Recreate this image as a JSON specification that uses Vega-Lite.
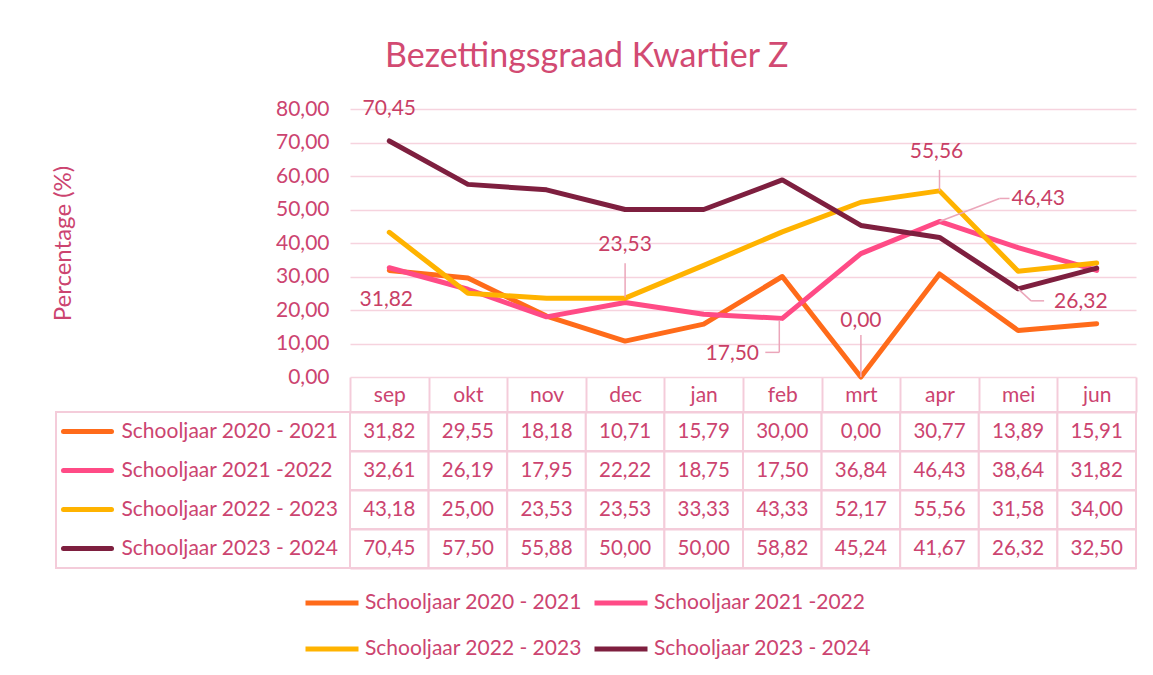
{
  "$schema": "https://vega.github.io/schema/vega-lite/v6.json",
  "padding": {"left": 51, "top": 39, "right": 5, "bottom": 5},
  "background": "white",
  "title": {"text": "Bezettingsgraad Kwartier Z", "font": "Lato", "fontSize": 34, "fontWeight": "normal", "color": "#D24A72", "anchor": "middle", "offset": 24, "dx": -8},
  "config": {
    "locale": {"number": {"decimal": ",", "thousands": ".", "grouping": [3], "currency": ["€", ""]}},
    "font": "Lato",
    "view": {"stroke": null}
  },
  "datasets": {
    "d": [
      {"m": "sep", "s": "Schooljaar 2020 - 2021", "v": 31.82},
      {"m": "okt", "s": "Schooljaar 2020 - 2021", "v": 29.55},
      {"m": "nov", "s": "Schooljaar 2020 - 2021", "v": 18.18},
      {"m": "dec", "s": "Schooljaar 2020 - 2021", "v": 10.71},
      {"m": "jan", "s": "Schooljaar 2020 - 2021", "v": 15.79},
      {"m": "feb", "s": "Schooljaar 2020 - 2021", "v": 30.00},
      {"m": "mrt", "s": "Schooljaar 2020 - 2021", "v": 0.00},
      {"m": "apr", "s": "Schooljaar 2020 - 2021", "v": 30.77},
      {"m": "mei", "s": "Schooljaar 2020 - 2021", "v": 13.89},
      {"m": "jun", "s": "Schooljaar 2020 - 2021", "v": 15.91},
      {"m": "sep", "s": "Schooljaar 2021 -2022", "v": 32.61},
      {"m": "okt", "s": "Schooljaar 2021 -2022", "v": 26.19},
      {"m": "nov", "s": "Schooljaar 2021 -2022", "v": 17.95},
      {"m": "dec", "s": "Schooljaar 2021 -2022", "v": 22.22},
      {"m": "jan", "s": "Schooljaar 2021 -2022", "v": 18.75},
      {"m": "feb", "s": "Schooljaar 2021 -2022", "v": 17.50},
      {"m": "mrt", "s": "Schooljaar 2021 -2022", "v": 36.84},
      {"m": "apr", "s": "Schooljaar 2021 -2022", "v": 46.43},
      {"m": "mei", "s": "Schooljaar 2021 -2022", "v": 38.64},
      {"m": "jun", "s": "Schooljaar 2021 -2022", "v": 31.82},
      {"m": "sep", "s": "Schooljaar 2022 - 2023", "v": 43.18},
      {"m": "okt", "s": "Schooljaar 2022 - 2023", "v": 25.00},
      {"m": "nov", "s": "Schooljaar 2022 - 2023", "v": 23.53},
      {"m": "dec", "s": "Schooljaar 2022 - 2023", "v": 23.53},
      {"m": "jan", "s": "Schooljaar 2022 - 2023", "v": 33.33},
      {"m": "feb", "s": "Schooljaar 2022 - 2023", "v": 43.33},
      {"m": "mrt", "s": "Schooljaar 2022 - 2023", "v": 52.17},
      {"m": "apr", "s": "Schooljaar 2022 - 2023", "v": 55.56},
      {"m": "mei", "s": "Schooljaar 2022 - 2023", "v": 31.58},
      {"m": "jun", "s": "Schooljaar 2022 - 2023", "v": 34.00},
      {"m": "sep", "s": "Schooljaar 2023 - 2024", "v": 70.45},
      {"m": "okt", "s": "Schooljaar 2023 - 2024", "v": 57.50},
      {"m": "nov", "s": "Schooljaar 2023 - 2024", "v": 55.88},
      {"m": "dec", "s": "Schooljaar 2023 - 2024", "v": 50.00},
      {"m": "jan", "s": "Schooljaar 2023 - 2024", "v": 50.00},
      {"m": "feb", "s": "Schooljaar 2023 - 2024", "v": 58.82},
      {"m": "mrt", "s": "Schooljaar 2023 - 2024", "v": 45.24},
      {"m": "apr", "s": "Schooljaar 2023 - 2024", "v": 41.67},
      {"m": "mei", "s": "Schooljaar 2023 - 2024", "v": 26.32},
      {"m": "jun", "s": "Schooljaar 2023 - 2024", "v": 32.50}
    ]
  },
  "data": {"name": "d"},
  "spacing": 35,
  "bounds": "flush",
  "vconcat": [
    {
      "width": 1080,
      "height": 268,
      "view": {"stroke": null},
      "encoding": {
        "x": {"field": "m", "type": "ordinal", "sort": null,
          "scale": {"type": "band", "domain": ["sep","okt","nov","dec","jan","feb","mrt","apr","mei","jun"], "paddingInner": 0, "paddingOuter": 0, "range": [294, 1080]},
          "axis": {"orient": "bottom", "title": null, "domain": false, "grid": false, "tickBand": "extent", "tickSize": 35, "tickWidth": 2, "tickColor": "#F4CCDA", "labelAngle": 0, "labelFontSize": 21, "labelColor": "#CC4470", "labelFont": "Lato", "labelBaseline": "middle", "labelPadding": -17}},
        "y": {"field": "v", "type": "quantitative",
          "scale": {"domain": [0, 80], "nice": false},
          "axis": {"orient": "left", "offset": -294, "values": [0,10,20,30,40,50,60,70,80], "format": ".2f", "domain": false, "grid": false, "tickSize": -786, "tickWidth": 1.5, "tickColor": "#F6D3DE", "labelFontSize": 21, "labelColor": "#CC4470", "labelFont": "Lato", "labelPadding": 807, "title": "Percentage (%)", "titleFont": "Lato", "titleFontSize": 24, "titleFontWeight": "normal", "titleColor": "#CC4470", "titlePadding": 200}}
      },
      "layer": [
        {
          "mark": {"type": "line", "strokeWidth": 5, "strokeJoin": "round", "strokeCap": "round"},
          "encoding": {
            "color": {"field": "s", "type": "nominal",
              "scale": {"domain": ["Schooljaar 2020 - 2021", "Schooljaar 2021 -2022", "Schooljaar 2022 - 2023", "Schooljaar 2023 - 2024"], "range": ["#FF6B1A", "#FF4B86", "#FFB300", "#7E1F3F"]},
              "legend": {"orient": "none", "legendX": 247, "legendY": 465, "columns": 2, "direction": "horizontal", "title": null, "symbolType": "stroke", "symbolSize": 2809, "symbolStrokeWidth": 5, "labelFontSize": 21, "labelColor": "#CC4470", "labelFont": "Lato", "labelLimit": 400, "columnPadding": 2, "rowPadding": 7, "labelOffset": 4}}
          }
        },
        {"transform": [{"filter": "datum.m === 'sep' && datum.s === 'Schooljaar 2023 - 2024'"}],
         "mark": {"type": "text", "fontSize": 21, "color": "#C93F66", "dx": 0, "dy": -32},
         "encoding": {"text": {"field": "v", "type": "quantitative", "format": ".2f"}}},
        {"transform": [{"filter": "datum.m === 'sep' && datum.s === 'Schooljaar 2020 - 2021'"}],
         "mark": {"type": "text", "fontSize": 21, "color": "#C93F66", "dx": -3, "dy": 30},
         "encoding": {"text": {"field": "v", "type": "quantitative", "format": ".2f"}}},
        {"transform": [{"filter": "datum.m === 'dec' && datum.s === 'Schooljaar 2022 - 2023'"}],
         "mark": {"type": "rule", "color": "#EBA6BA", "strokeWidth": 1.5, "yOffset": -1, "y2Offset": -35},
         "encoding": {"y2": {"field": "v"}}},
        {"transform": [{"filter": "datum.m === 'dec' && datum.s === 'Schooljaar 2022 - 2023'"}],
         "mark": {"type": "text", "fontSize": 21, "color": "#C93F66", "dy": -53},
         "encoding": {"text": {"field": "v", "type": "quantitative", "format": ".2f"}}},
        {"transform": [{"filter": "datum.m === 'feb' && datum.s === 'Schooljaar 2021 -2022'"}],
         "mark": {"type": "rule", "color": "#EBA6BA", "strokeWidth": 1.5, "xOffset": -3, "yOffset": 2, "y2Offset": 34},
         "encoding": {"y2": {"field": "v"}}},
        {"transform": [{"filter": "datum.m === 'feb' && datum.s === 'Schooljaar 2021 -2022'"}],
         "mark": {"type": "rule", "color": "#EBA6BA", "strokeWidth": 1.5, "xOffset": -17, "x2Offset": -3, "yOffset": 34},
         "encoding": {"x2": {"field": "m"}}},
        {"transform": [{"filter": "datum.m === 'feb' && datum.s === 'Schooljaar 2021 -2022'"}],
         "mark": {"type": "text", "fontSize": 21, "color": "#C93F66", "dx": -50, "dy": 36},
         "encoding": {"text": {"field": "v", "type": "quantitative", "format": ".2f"}}},
        {"transform": [{"filter": "datum.m === 'mrt' && datum.s === 'Schooljaar 2020 - 2021'"}],
         "mark": {"type": "rule", "color": "#EBA6BA", "strokeWidth": 1.5, "y2Offset": -42},
         "encoding": {"y2": {"field": "v"}}},
        {"transform": [{"filter": "datum.m === 'mrt' && datum.s === 'Schooljaar 2020 - 2021'"}],
         "mark": {"type": "text", "fontSize": 21, "color": "#C93F66", "dy": -56},
         "encoding": {"text": {"field": "v", "type": "quantitative", "format": ".2f"}}},
        {"transform": [{"filter": "datum.m === 'apr' && datum.s === 'Schooljaar 2022 - 2023'"}],
         "mark": {"type": "rule", "color": "#EBA6BA", "strokeWidth": 1.5, "y2Offset": -21},
         "encoding": {"y2": {"field": "v"}}},
        {"transform": [{"filter": "datum.m === 'apr' && datum.s === 'Schooljaar 2022 - 2023'"}],
         "mark": {"type": "text", "fontSize": 21, "color": "#C93F66", "dx": -3, "dy": -39},
         "encoding": {"text": {"field": "v", "type": "quantitative", "format": ".2f"}}},
        {"transform": [{"filter": "datum.m === 'apr' && datum.s === 'Schooljaar 2021 -2022'"}],
         "mark": {"type": "rule", "color": "#EBA6BA", "strokeWidth": 1.5, "x2Offset": 60, "y2Offset": -23},
         "encoding": {"x2": {"field": "m"}, "y2": {"field": "v"}}},
        {"transform": [{"filter": "datum.m === 'apr' && datum.s === 'Schooljaar 2021 -2022'"}],
         "mark": {"type": "rule", "color": "#EBA6BA", "strokeWidth": 1.5, "xOffset": 60, "x2Offset": 70, "yOffset": -23},
         "encoding": {"x2": {"field": "m"}}},
        {"transform": [{"filter": "datum.m === 'apr' && datum.s === 'Schooljaar 2021 -2022'"}],
         "mark": {"type": "text", "fontSize": 21, "color": "#C93F66", "align": "left", "dx": 72, "dy": -22},
         "encoding": {"text": {"field": "v", "type": "quantitative", "format": ".2f"}}},
        {"transform": [{"filter": "datum.m === 'mei' && datum.s === 'Schooljaar 2023 - 2024'"}],
         "mark": {"type": "rule", "color": "#EBA6BA", "strokeWidth": 1.5, "x2Offset": 13, "y2Offset": 12},
         "encoding": {"x2": {"field": "m"}, "y2": {"field": "v"}}},
        {"transform": [{"filter": "datum.m === 'mei' && datum.s === 'Schooljaar 2023 - 2024'"}],
         "mark": {"type": "rule", "color": "#EBA6BA", "strokeWidth": 1.5, "xOffset": 13, "x2Offset": 26, "yOffset": 12},
         "encoding": {"x2": {"field": "m"}}},
        {"transform": [{"filter": "datum.m === 'mei' && datum.s === 'Schooljaar 2023 - 2024'"}],
         "mark": {"type": "text", "fontSize": 21, "color": "#C93F66", "align": "left", "dx": 36, "dy": 13},
         "encoding": {"text": {"field": "v", "type": "quantitative", "format": ".2f"}}}
      ]
    },
    {
      "width": 1080,
      "height": 156,
      "view": {"stroke": "#F4CCDA", "strokeWidth": 2},
      "layer": [
        {
          "mark": {"type": "rect", "fill": "white", "stroke": "#F4CCDA", "strokeWidth": 2},
          "encoding": {
            "x": {"field": "m", "type": "ordinal", "sort": null,
              "scale": {"type": "band", "domain": ["sep","okt","nov","dec","jan","feb","mrt","apr","mei","jun"], "paddingInner": 0, "paddingOuter": 0, "range": [294, 1080]},
              "axis": null},
            "y": {"field": "s", "type": "nominal", "sort": null,
              "scale": {"type": "band", "domain": ["Schooljaar 2020 - 2021", "Schooljaar 2021 -2022", "Schooljaar 2022 - 2023", "Schooljaar 2023 - 2024"], "paddingInner": 0, "paddingOuter": 0},
              "axis": {"orient": "left", "title": null, "labels": false, "ticks": false, "domain": false, "grid": true, "tickBand": "extent", "gridColor": "#F4CCDA", "gridWidth": 2}}
          }
        },
        {
          "mark": {"type": "text", "fontSize": 20.5, "color": "#CC4470", "font": "Lato"},
          "encoding": {
            "x": {"field": "m", "type": "ordinal", "sort": null,
              "scale": {"type": "band", "domain": ["sep","okt","nov","dec","jan","feb","mrt","apr","mei","jun"], "paddingInner": 0, "paddingOuter": 0, "range": [294, 1080]},
              "axis": null},
            "y": {"field": "s", "type": "nominal", "sort": null,
              "scale": {"type": "band", "domain": ["Schooljaar 2020 - 2021", "Schooljaar 2021 -2022", "Schooljaar 2022 - 2023", "Schooljaar 2023 - 2024"], "paddingInner": 0, "paddingOuter": 0},
              "axis": {"orient": "left", "offset": -7, "title": null, "domain": false, "grid": false, "tickSize": -48, "tickWidth": 5, "tickCap": "round",
                "tickColor": {"condition": [
                  {"test": "datum.value === 'Schooljaar 2020 - 2021'", "value": "#FF6B1A"},
                  {"test": "datum.value === 'Schooljaar 2021 -2022'", "value": "#FF4B86"},
                  {"test": "datum.value === 'Schooljaar 2022 - 2023'", "value": "#FFB300"}
                ], "value": "#7E1F3F"},
                "labelAlign": "left", "labelPadding": -10, "labelLimit": 400, "labelFontSize": 21, "labelColor": "#CC4470", "labelFont": "Lato"}},
            "text": {"field": "v", "type": "quantitative", "format": ".2f"}
          }
        }
      ],
      "resolve": {"axis": {"y": "independent"}}
    }
  ]
}
